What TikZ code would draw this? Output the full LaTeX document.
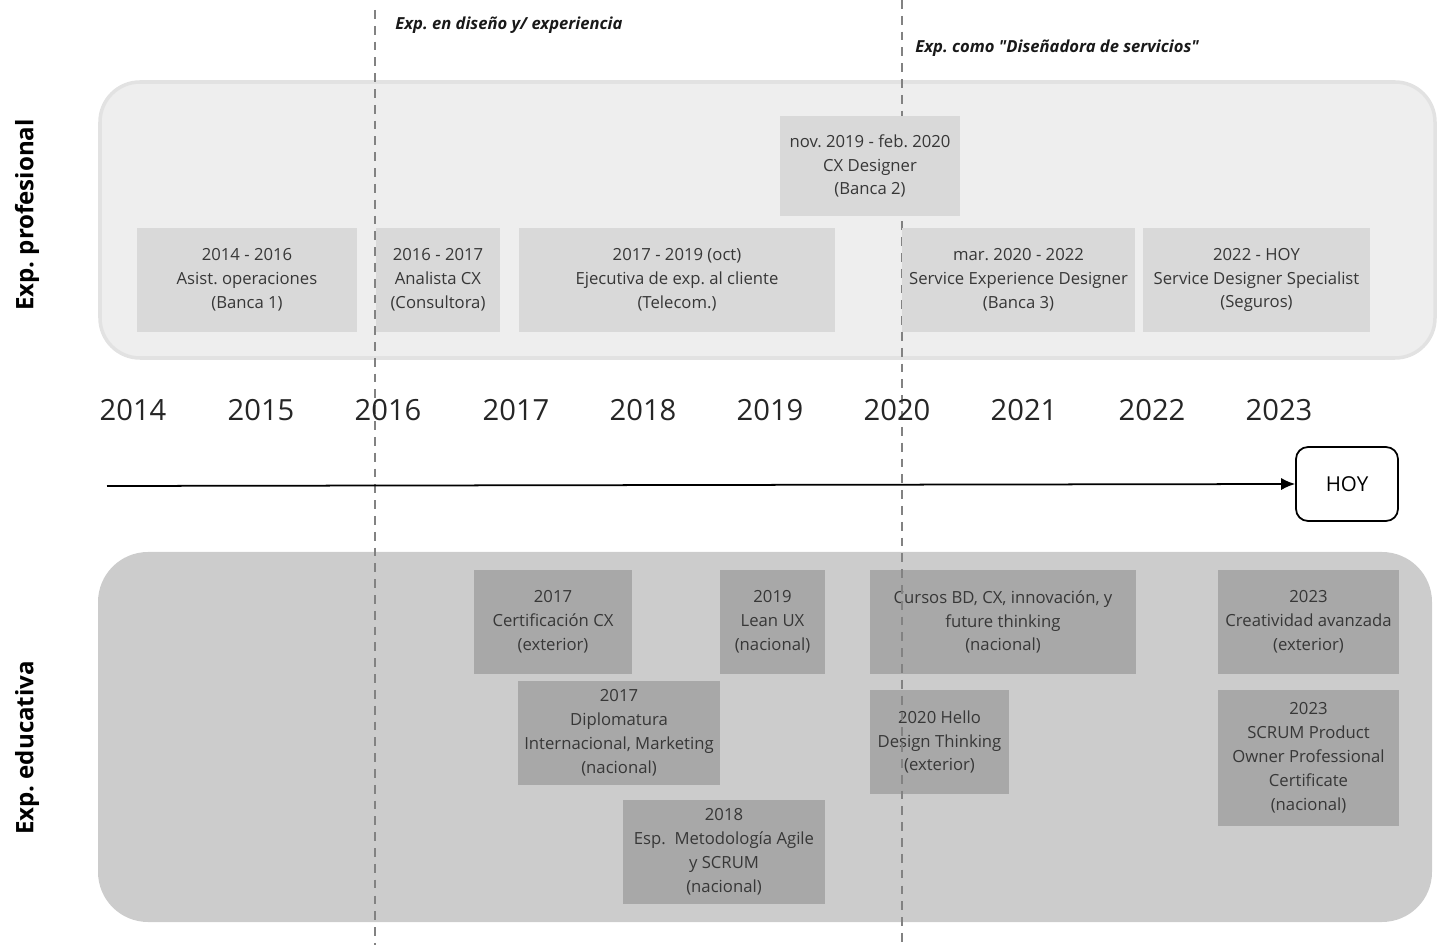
\documentclass[tikz,border=0pt]{standalone}
\usepackage{fontspec}
\setmainfont{Open Sans}
\newfontfamily\phasefont{Open Sans}
\usepackage{xcolor}
\usetikzlibrary{arrows.meta}
\definecolor{panelpro}{RGB}{238,238,238}
\definecolor{panelproedge}{RGB}{226,226,226}
\definecolor{boxpro}{RGB}{217,217,217}
\definecolor{paneledu}{RGB}{204,204,204}
\definecolor{boxedu}{RGB}{168,168,168}
\definecolor{textbox}{RGB}{55,55,55}
\definecolor{phaseline}{RGB}{130,130,130}
\frenchspacing

\begin{document}
\begin{tikzpicture}[x=0.02cm, y=-0.02cm]
\tikzstyle{every node}=[font=\fontsize{9.5}{13.6}\selectfont, align=center, inner sep=0pt]
\tikzstyle{jobbox}=[fill=boxpro, text=textbox, minimum height=2.08cm]
\tikzstyle{edubox}=[fill=boxedu, text=textbox, minimum height=2.08cm]
\tikzstyle{year}=[font=\fontsize{16.6}{20}\selectfont, text=black!85]
\tikzstyle{phase}=[font=\phasefont\fontsize{9.45}{11}\selectfont\bfseries\itshape, anchor=west, text=black!90]
\tikzstyle{side}=[font=\fontsize{13.7}{16}\selectfont\bfseries, rotate=90]
\tikzstyle{divider}=[draw=phaseline, line width=0.8pt, dash pattern=on 5pt off 4pt]

\useasboundingbox (0,0) rectangle (1438,945);

% paneles
\draw[fill=panelpro, draw=panelproedge, line width=2pt, rounded corners=0.8cm] (100,82) rectangle (1435,358);
\fill[paneledu, rounded corners=1cm] (98,552) rectangle (1432,922);

\node[side] (lblpro) at (27,215) {Exp. profesional};
\node[side] (lbledu) at (27,748) {Exp. educativa};

% exp. educativa
\node[edubox, minimum width=3.16cm] (e1) at (553,622) {2017\\Certificación CX\\(exterior)};
\node[edubox, minimum width=2.1cm] (e2) at (772.5,622) {2019\\Lean UX\\(nacional)};
\node[edubox, minimum width=4.04cm] (e3) at (619,733) {2017\\Diplomatura\\Internacional, Marketing\\(nacional)};
\node[edubox, minimum width=4.04cm] (e4) at (724,852) {2018\\Esp.\ \ Metodología Agile\\y SCRUM\\(nacional)};
\node[edubox, minimum width=5.32cm] (e5) at (1003,622) {Cursos BD, CX, innovación, y\\future thinking\\(nacional)};
\node[edubox, minimum width=2.78cm] (e6) at (939.5,742) {2020 Hello\\Design Thinking\\(exterior)};
\node[edubox, minimum width=3.62cm] (e7) at (1308.5,622) {2023\\Creatividad avanzada\\(exterior)};
\node[edubox, minimum width=3.62cm, minimum height=2.72cm] (e8) at (1308.5,758) {2023\\SCRUM Product\\Owner Professional\\Certificate\\(nacional)};

% etapas
\coordinate (d1top) at (375,10);
\coordinate (d1bot) at (375,945);
\coordinate (d2top) at (902,0);
\coordinate (d2bot) at (902,945);
\draw[divider] (d1top) -- (d1bot);
\draw[divider] (d2top) -- (d2bot);
\node[phase] (fase1) at (395,25) {Exp. en diseño y/ experiencia};
\node[phase] (fase2) at (915,48) {Exp. como "Diseñadora de servicios"};

% exp. profesional
\node[jobbox, minimum width=4.4cm] (b1) at (247,280) {2014 - 2016\\Asist. operaciones\\(Banca 1)};
\node[jobbox, minimum width=2.48cm] (b2) at (438,280) {2016 - 2017\\Analista CX\\(Consultora)};
\node[jobbox, minimum width=6.32cm] (b3) at (677,280) {2017 - 2019 (oct)\\Ejecutiva de exp. al cliente\\(Telecom.)};
\node[jobbox, minimum width=3.6cm, minimum height=2cm] (b4) at (870,166) {nov. 2019 - feb. 2020\\CX Designer\\(Banca 2)};
\node[jobbox, minimum width=4.66cm] (b5) at (1018.5,280) {mar. 2020 - 2022\\Service Experience Designer\\(Banca 3)};
\node[jobbox, minimum width=4.54cm] (b6) at (1256.5,280) {2022 - HOY\\Service Designer Specialist\\(Seguros)};

% anios
\node[year] (y2014) at (133,410) {2014};
\node[year] (y2015) at (261,410) {2015};
\node[year] (y2016) at (388,410) {2016};
\node[year] (y2017) at (516,410) {2017};
\node[year] (y2018) at (643,410) {2018};
\node[year] (y2019) at (770,410) {2019};
\node[year] (y2020) at (897,410) {2020};
\node[year] (y2021) at (1024,410) {2021};
\node[year] (y2022) at (1152,410) {2022};
\node[year] (y2023) at (1279,410) {2023};

% linea de tiempo
\node[draw, line width=1pt, rounded corners=0.24cm, minimum width=2.04cm, minimum height=1.48cm, fill=white,
      font=\fontsize{11.7}{14}\selectfont] (hoy) at (1347,484) {HOY};
\coordinate (inicio) at (107,486);
\draw[-{Latex[length=8pt, width=7pt]}, line width=1pt] (inicio) -- (hoy.west);

\end{tikzpicture}
\end{document}
